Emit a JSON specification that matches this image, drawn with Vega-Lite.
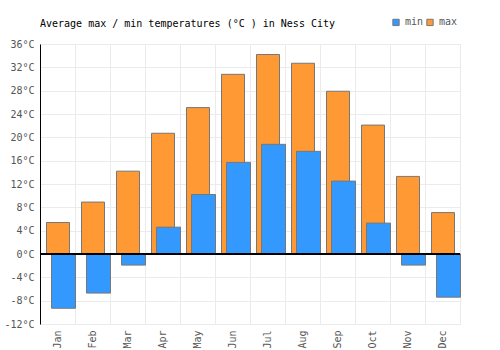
{
  "$schema": "https://vega.github.io/schema/vega-lite/v6.json",
  "width": 420,
  "height": 280,
  "autosize": {"type": "none"},
  "padding": {"left": 40, "top": 44, "right": 40, "bottom": 26},
  "background": "white",
  "title": {
    "text": "Average max / min temperatures (°C ) in Ness City",
    "anchor": "start",
    "frame": "group",
    "font": "DejaVu Sans Mono",
    "fontSize": 10,
    "fontWeight": "normal",
    "color": "#000000",
    "offset": 17,
    "dy": 29
  },
  "config": {
    "view": {"stroke": "#ebebeb", "strokeWidth": 1},
    "axis": {"labelFont": "DejaVu Sans Mono", "labelFontSize": 10, "labelColor": "#555555", "gridColor": "#ebebeb", "gridWidth": 1},
    "legend": {"labelFont": "DejaVu Sans Mono", "labelFontSize": 10, "labelColor": "#555555"}
  },
  "data": {
    "values": [
      {"month": "Jan", "type": "max", "temp": 5.4}, {"month": "Jan", "type": "min", "temp": -9.3},
      {"month": "Feb", "type": "max", "temp": 8.9}, {"month": "Feb", "type": "min", "temp": -6.7},
      {"month": "Mar", "type": "max", "temp": 14.2}, {"month": "Mar", "type": "min", "temp": -1.9},
      {"month": "Apr", "type": "max", "temp": 20.7}, {"month": "Apr", "type": "min", "temp": 4.6},
      {"month": "May", "type": "max", "temp": 25.1}, {"month": "May", "type": "min", "temp": 10.2},
      {"month": "Jun", "type": "max", "temp": 30.8}, {"month": "Jun", "type": "min", "temp": 15.7},
      {"month": "Jul", "type": "max", "temp": 34.2}, {"month": "Jul", "type": "min", "temp": 18.8},
      {"month": "Aug", "type": "max", "temp": 32.7}, {"month": "Aug", "type": "min", "temp": 17.6},
      {"month": "Sep", "type": "max", "temp": 27.9}, {"month": "Sep", "type": "min", "temp": 12.5},
      {"month": "Oct", "type": "max", "temp": 22.1}, {"month": "Oct", "type": "min", "temp": 5.3},
      {"month": "Nov", "type": "max", "temp": 13.3}, {"month": "Nov", "type": "min", "temp": -1.9},
      {"month": "Dec", "type": "max", "temp": 7.1}, {"month": "Dec", "type": "min", "temp": -7.4}
    ]
  },
  "encoding": {
    "x": {
      "field": "month", "type": "nominal", "sort": null,
      "scale": {"paddingInner": 0, "paddingOuter": 0},
      "axis": {"title": null, "labelAngle": -90, "labelAlign": "right", "labelBaseline": "middle", "labelPadding": 6, "domain": false, "ticks": false, "grid": true, "tickBand": "extent"}
    },
    "y": {
      "field": "temp", "type": "quantitative",
      "scale": {"domain": [-12, 36], "nice": false, "zero": false},
      "axis": {"title": null, "values": [-12, -8, -4, 0, 4, 8, 12, 16, 20, 24, 28, 32, 36], "labelExpr": "datum.value + '°C'", "ticks": false, "labelPadding": 6, "domain": true, "domainColor": "#000000", "grid": true}
    }
  },
  "layer": [
    {
      "transform": [{"filter": "datum.type == 'max'"}],
      "mark": {"type": "bar", "width": 23, "xOffset": 0.5, "stroke": "#777777", "strokeWidth": 1, "fillOpacity": 1},
      "encoding": {
        "color": {"field": "type", "type": "nominal", "scale": {"domain": ["min", "max"], "range": ["#3399ff", "#ff9933"]},
          "legend": {"title": null, "orient": "none", "legendX": 351, "legendY": -27, "direction": "horizontal", "symbolType": "square", "symbolSize": 40, "symbolStrokeColor": "#777777", "symbolStrokeWidth": 1, "labelOffset": 4, "columnPadding": 0, "symbolOpacity": 1}}
      }
    },
    {
      "transform": [{"filter": "datum.type == 'min'"}],
      "mark": {"type": "bar", "width": 24, "xOffset": 6, "stroke": "#777777", "strokeWidth": 1, "fillOpacity": 1},
      "encoding": {
        "color": {"field": "type", "type": "nominal"}
      }
    },
    {
      "mark": {"type": "rule", "color": "#000000", "strokeWidth": 1},
      "encoding": {"y": {"datum": 0}, "x": {"value": 0}, "x2": {"value": 420}}
    }
  ]
}
